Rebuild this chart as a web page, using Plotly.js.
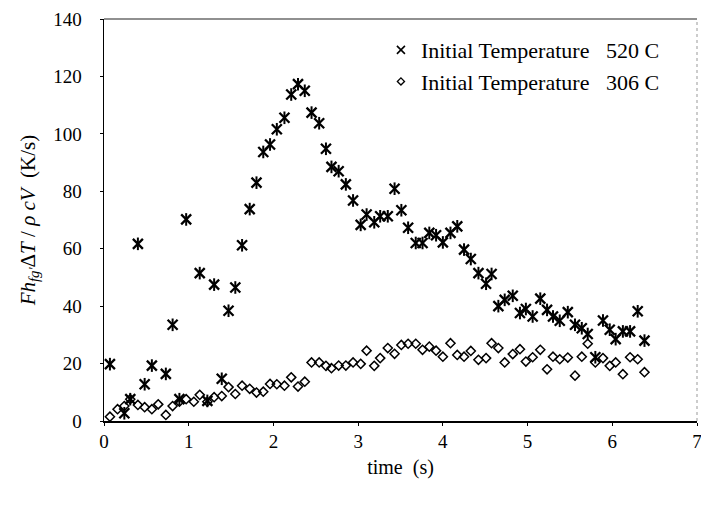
<!DOCTYPE html>
<html>
<head>
<meta charset="utf-8">
<script src="https://cdn.plot.ly/plotly-3.0.1.min.js"></script>
<style>html,body{margin:0;padding:0;background:#fff;}#chart{width:701px;height:505px;}</style>
</head>
<body>
<div id="chart"></div>
<script>
// Series: Initial Temperature 520 C (asterisks)
const time520 = [0.07, 0.24, 0.31, 0.40, 0.48, 0.565, 0.73, 0.81, 0.89, 0.97, 1.13, 1.22, 1.30, 1.39, 1.47, 1.55, 1.63, 1.72, 1.80, 1.88, 1.96, 2.04, 2.13, 2.21, 2.29, 2.37, 2.45, 2.54, 2.62, 2.685, 2.77, 2.855, 2.94, 3.03, 3.10, 3.19, 3.26, 3.35, 3.43, 3.51, 3.59, 3.68, 3.76, 3.84, 3.92, 4.00, 4.09, 4.17, 4.25, 4.33, 4.42, 4.51, 4.575, 4.655, 4.73, 4.825, 4.91, 4.98, 5.06, 5.15, 5.23, 5.30, 5.38, 5.475, 5.56, 5.64, 5.71, 5.80, 5.89, 5.97, 6.04, 6.125, 6.21, 6.30, 6.38];
const rate520 = [19.8, 2.7, 7.6, 61.7, 12.8, 19.3, 16.4, 33.5, 7.6, 70.2, 51.5, 7.0, 47.5, 14.7, 38.4, 46.5, 61.2, 73.8, 83.0, 93.7, 96.3, 101.6, 105.6, 113.7, 117.3, 115.0, 107.4, 103.7, 94.8, 88.5, 87.0, 82.4, 76.8, 68.3, 71.9, 69.2, 71.3, 71.3, 80.9, 73.4, 67.3, 62.0, 62.0, 65.5, 64.7, 62.2, 65.5, 67.8, 59.7, 56.4, 51.5, 47.8, 51.2, 40.0, 42.2, 43.6, 37.6, 39.0, 36.4, 42.6, 38.7, 36.4, 34.9, 37.9, 33.5, 32.3, 30.3, 22.2, 35.0, 31.8, 28.5, 31.2, 31.2, 38.2, 28.0];

// Series: Initial Temperature 306 C (diamonds)
const time306 = [0.07, 0.16, 0.24, 0.31, 0.40, 0.48, 0.565, 0.64, 0.73, 0.81, 0.89, 0.97, 1.06, 1.13, 1.22, 1.30, 1.39, 1.47, 1.55, 1.63, 1.72, 1.80, 1.88, 1.96, 2.04, 2.13, 2.21, 2.29, 2.37, 2.45, 2.54, 2.62, 2.685, 2.77, 2.855, 2.94, 3.03, 3.10, 3.19, 3.26, 3.35, 3.43, 3.51, 3.59, 3.68, 3.76, 3.84, 3.92, 4.00, 4.09, 4.17, 4.25, 4.33, 4.42, 4.51, 4.575, 4.655, 4.73, 4.825, 4.91, 4.98, 5.06, 5.15, 5.23, 5.30, 5.38, 5.475, 5.56, 5.64, 5.71, 5.80, 5.89, 5.97, 6.04, 6.125, 6.21, 6.30, 6.38];
const rate306 = [1.5, 4.1, 5.2, 7.6, 5.6, 4.8, 4.1, 5.8, 2.1, 5.2, 6.7, 7.6, 6.7, 9.1, 6.7, 8.3, 8.7, 11.8, 9.4, 12.3, 11.2, 9.9, 10.2, 12.9, 12.8, 12.3, 15.2, 12.0, 13.7, 20.4, 20.4, 19.2, 18.4, 19.3, 19.3, 20.4, 19.9, 24.5, 19.2, 21.9, 25.4, 23.4, 26.5, 26.9, 26.9, 24.8, 25.9, 24.5, 22.4, 27.1, 23.0, 22.4, 24.4, 21.3, 21.9, 27.1, 25.4, 20.4, 23.3, 25.0, 20.7, 22.2, 24.8, 18.0, 22.4, 21.5, 22.1, 15.8, 22.4, 26.9, 20.4, 21.9, 19.2, 20.4, 16.3, 22.2, 21.5, 17.0];

const seriesNames = ['Initial Temperature\u00A0\u00A0\u00A0520 C', 'Initial Temperature\u00A0\u00A0\u00A0306 C'];
const xTicks = [0, 1, 2, 3, 4, 5, 6, 7];
const yTicks = [0, 20, 40, 60, 80, 100, 120, 140];

const serif = '"Liberation Serif", "Times New Roman", serif';

const traces = [
  {
    x: time520, y: rate520, type: 'scatter', mode: 'markers', name: seriesNames[0],
    showlegend: false,
    marker: {symbol: 'x-thin-open', size: 10, color: '#000', line: {color: '#000', width: 2.3}}
  },
  {
    x: time520, y: rate520, type: 'scatter', mode: 'markers', name: seriesNames[0],
    showlegend: false, hoverinfo: 'skip',
    marker: {symbol: 'line-ns-open', size: 9, color: '#000', line: {color: '#000', width: 2}}
  },
  {
    x: time306, y: rate306, type: 'scatter', mode: 'markers', name: seriesNames[1],
    showlegend: false,
    marker: {symbol: 'diamond-open', size: 7, color: '#000', line: {color: '#000', width: 1.5}}
  },
  // legend entries (no data of their own)
  {
    x: [null], y: [null], type: 'scatter', mode: 'markers', name: seriesNames[0],
    marker: {symbol: 'x-thin-open', size: 8, color: '#000', line: {color: '#000', width: 1.6}}
  },
  {
    x: [null], y: [null], type: 'scatter', mode: 'markers', name: seriesNames[1],
    marker: {symbol: 'diamond-open', size: 5.5, color: '#000', line: {color: '#000', width: 1.3}}
  }
];

const layout = {
  width: 701, height: 505,
  margin: {l: 104, r: 4, t: 19, b: 84},
  paper_bgcolor: '#fff', plot_bgcolor: '#fff',
  font: {family: serif, color: '#000', size: 19},
  showlegend: true,
  legend: {
    x: 0.467, y: 0.975, xanchor: 'left', yanchor: 'top',
    bgcolor: 'rgba(0,0,0,0)', borderwidth: 0,
    font: {family: serif, size: 22, color: '#000'},
    traceorder: 'normal'
  },
  xaxis: {
    range: [0, 7], tickvals: xTicks, ticktext: xTicks.map(String),
    showgrid: false, zeroline: false,
    showline: true, linecolor: '#000', linewidth: 1.5,
    ticks: 'outside', ticklen: 3, tickcolor: '#000',
    ticklabeloverflow: 'allow',
    tickfont: {family: serif, size: 19},
    title: {text: 'time\u00A0\u00A0(s)', font: {family: serif, size: 20}, standoff: 8}
  },
  yaxis: {
    range: [0, 140], tickvals: yTicks, ticktext: yTicks.map(String),
    showgrid: false, zeroline: false,
    showline: true, linecolor: '#000', linewidth: 1.5,
    ticks: 'outside', ticklen: 3, tickcolor: '#000',
    ticklabelstandoff: 14,
    tickfont: {family: serif, size: 19},
    title: {
      text: '<i>Fh</i><sub><i>fg\'</i></sub>\u0394<i>T</i> / <i>\u03C1 cV</i>\u00A0\u00A0(K/s)',
      font: {family: serif, size: 21}, standoff: 12
    }
  },
  shapes: [
    {type: 'line', xref: 'paper', yref: 'paper', x0: 0, x1: 1, y0: 1, y1: 1, line: {color: '#222', width: 1.2}},
    {type: 'line', xref: 'paper', yref: 'paper', x0: 1, x1: 1, y0: 0, y1: 1, line: {color: '#999', width: 1, dash: 'dot'}}
  ]
};

Plotly.newPlot('chart', traces, layout, {staticPlot: true, displayModeBar: false});
</script>
</body>
</html>
